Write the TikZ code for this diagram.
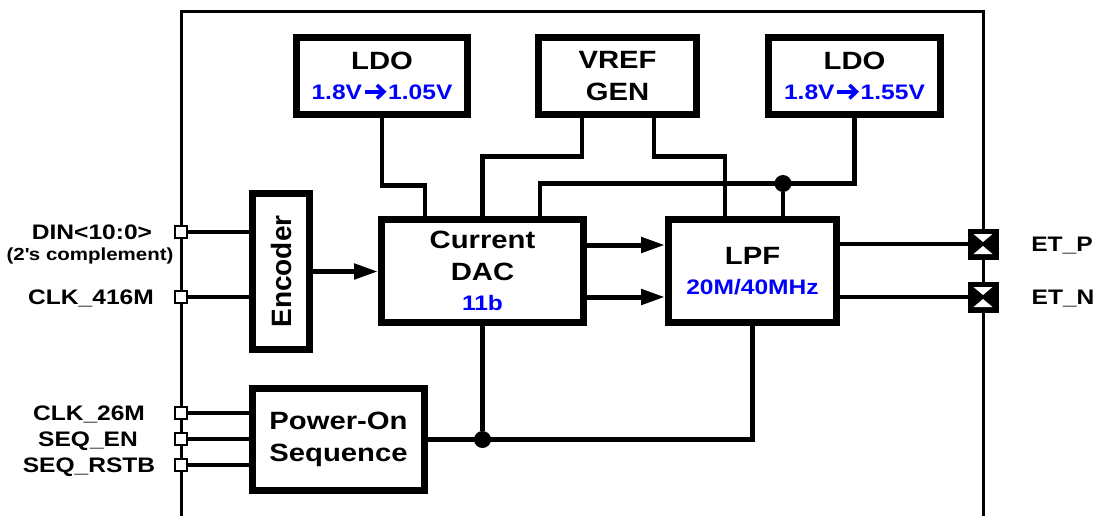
\documentclass[tikz,border=0pt]{standalone}
\usepackage{fontspec}
\setmainfont{Liberation Sans}[FakeStretch=1.17]
\newfontfamily\encfont{Liberation Sans}
\usetikzlibrary{arrows.meta,calc}
\pgfdeclarelayer{background}
\pgfsetlayers{background,main}
\tikzset{
  blk/.style={draw, line width=7pt, fill=white, inner sep=0pt, align=center,
    font=\bfseries\fontsize{25}{32}\selectfont},
  wire/.style={line width=4.5pt},
  pwire/.style={line width=3.5pt},
  arr/.style={line width=5pt, -{Triangle[length=24pt,width=15pt]}},
  pinbox/.style={draw, line width=2.5pt, fill=white, minimum size=12pt, inner sep=0pt},
  etbox/.style={fill=black, minimum size=31pt, inner sep=0pt},
  lbl/.style={font=\bfseries\fontsize{21}{24}\selectfont, inner sep=0pt, anchor=base},
  dotnode/.style={circle, fill=black, minimum size=17pt, inner sep=0pt},
}
\newcommand{\bsub}[1]{{\color{blue}\fontsize{21}{32}\selectfont #1}}
\newcommand{\rarr}{\hspace{1pt}\tikz[baseline=0pt,x=1pt,y=1pt]{%
  \draw[blue, line width=3.6pt, line cap=butt] (0,7.5) -- (19,7.5);
  \draw[blue, line width=3.6pt, line join=miter] (12,14.2) -- (19,7.5) -- (12,0.8);}\hspace{2.5pt}}
\begin{document}
\begin{tikzpicture}[x=1pt,y=1pt]
\useasboundingbox (0,0) rectangle (1097,-515);
% frame
\draw[line width=3pt] (181,-516) -- (181,-11) -- (983,-11) -- (983,-516);

% blocks
\node[blk, minimum width=171pt, minimum height=77pt] (ldoA) at (382,-76) {LDO\\[-2pt]\bsub{1.8V\rarr1.05V}};
\node[blk, minimum width=158pt, minimum height=77pt] (vref) at (617.5,-76) {VREF\\GEN};
\node[blk, minimum width=172pt, minimum height=77pt] (ldoB) at (854.5,-76) {LDO\\[-2pt]\bsub{1.8V\rarr1.55V}};
\node[blk, minimum width=57pt, minimum height=156pt] (enc) at (281,-271.5) {};
\node[rotate=90, inner sep=0pt, font=\encfont\bfseries\fontsize{28}{32}\selectfont] (enctext) at (enc.center) {Encoder};
\node[blk, minimum width=202pt, minimum height=103pt] (dac) at (482.5,-271) {Current\\DAC\\[-2pt]\bsub{11b}};
\node[blk, minimum width=168pt, minimum height=103pt] (lpf) at (752.5,-271) {LPF\\[-2pt]\bsub{20M/40MHz}};
\node[blk, minimum width=172pt, minimum height=102pt] (pos) at (338.5,-439.5) {Power-On\\Sequence};

% pins
\node[pinbox] (pDIN) at (181,-232) {};
\node[pinbox] (pCLK) at (181,-297) {};
\node[pinbox] (pC26) at (181,-413) {};
\node[pinbox] (pSEN) at (181,-439) {};
\node[pinbox] (pRST) at (181,-465) {};

\node[etbox] (etp) at (983,-244) {};
\node[etbox] (etn) at (983,-297) {};
\foreach \e in {etp,etn}{
  \fill[white] ([shift={(-9.5,10)}]\e.center) -- ([shift={(9.5,10)}]\e.center) -- ([shift={(0,2)}]\e.center) -- cycle;
  \fill[white] ([shift={(-9.5,-10)}]\e.center) -- ([shift={(9.5,-10)}]\e.center) -- ([shift={(0,-2)}]\e.center) -- cycle;
}

% labels
\node[lbl] (tDIN) at (92,-239) {DIN<10:0>};
\node[lbl, font=\bfseries\fontsize{17.5}{20}\selectfont] (tcomp) at (90,-260) {(2\textquotesingle s complement)};
\node[lbl] (tCLK) at (91,-304) {CLK\_416M};
\node[lbl] (tC26) at (89,-420) {CLK\_26M};
\node[lbl] (tSEN) at (88,-446) {SEQ\_EN};
\node[lbl] (tRST) at (89,-472) {SEQ\_RSTB};
\node[lbl] (tETP) at (1062,-251) {ET\_P};
\node[lbl] (tETN) at (1063,-304) {ET\_N};

% junctions
\coordinate (busB) at ([yshift=-65.5]ldoB.south);
\coordinate (lpfT) at ([xshift=30.5]lpf.north);
\node[dotnode] (j1) at (lpfT |- busB) {};
\node[dotnode] (j2) at (dac.south |- pos.east) {};

\coordinate (dA) at ([yshift=26]dac.east);
\coordinate (dB) at ([yshift=-26]dac.east);
\coordinate (lA) at ([yshift=27]lpf.east);
\coordinate (lB) at ([yshift=-26]lpf.east);

\begin{pgfonlayer}{background}
  \draw[wire] (ldoA.south) -- ++(0,-67.5) -| ([xshift=-57.5]dac.north);
  \draw[wire] ([xshift=-35.5]vref.south) -- ++(0,-38.5) -| (dac.north);
  \draw[wire] ([xshift=36.5]vref.south) -- ++(0,-38.5) -| ([xshift=-27.5]lpf.north);
  \draw[wire] (ldoB.south) -- (busB) -| ([xshift=57.5]dac.north);
  \draw[wire] (j1) -- (lpfT);
  \draw[arr] (enc.east) -- (enc.east -| dac.west);
  \draw[arr] (dA) -- (dA -| lpf.west);
  \draw[arr] (dB) -- (dB -| lpf.west);
  \draw[wire] (lA) -- (lA -| etp.center);
  \draw[wire] (lB) -- (lB -| etn.center);
  \draw[wire] (dac.south) -- (j2);
  \draw[wire] (pos.east) -| (lpf.south);
  \draw[pwire] (pDIN) -- (pDIN -| enc.west);
  \draw[pwire] (pCLK) -- (pCLK -| enc.west);
  \draw[pwire] (pC26) -- (pC26 -| pos.west);
  \draw[pwire] (pSEN) -- (pSEN -| pos.west);
  \draw[pwire] (pRST) -- (pRST -| pos.west);
\end{pgfonlayer}
\end{tikzpicture}
\end{document}
